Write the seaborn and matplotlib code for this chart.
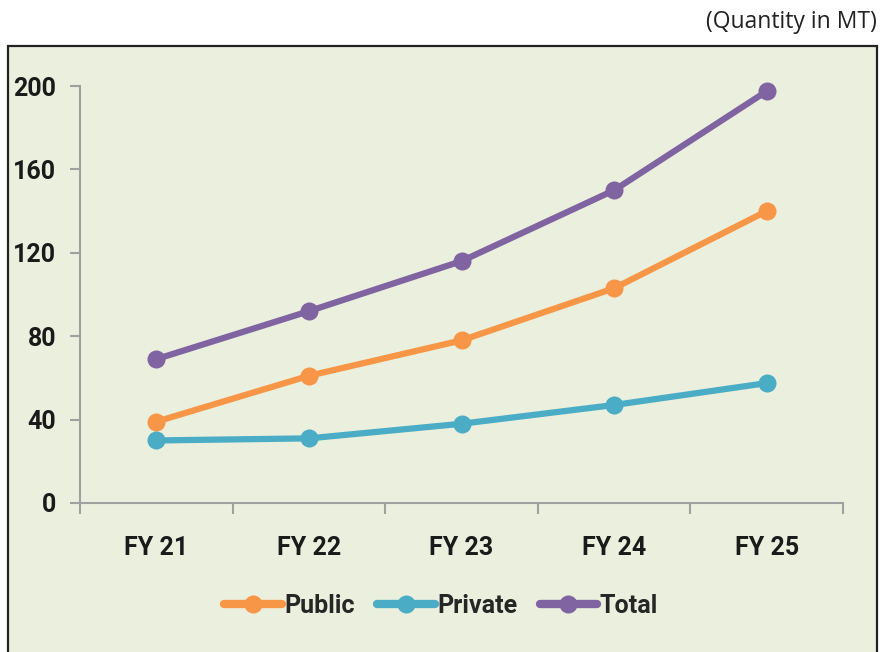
import matplotlib
matplotlib.use("Agg")
import matplotlib.pyplot as plt
from matplotlib.patches import Rectangle
import pandas as pd
import seaborn as sns

years = ["FY 21", "FY 22", "FY 23", "FY 24", "FY 25"]
public = [39, 61, 78, 103, 140]
private = [30, 31, 38, 47, 57.5]
total = [69, 92, 116, 150, 197.5]

series_names = ["Public", "Private", "Total"]
colors = ["#F79646", "#4BACC6", "#8064A2"]

df = pd.DataFrame({
    "Year": years * 3,
    "x": list(range(len(years))) * 3,
    "Value": public + private + total,
    "Series": [s for s in series_names for _ in years],
})

sns.set_style("white")
plt.rcParams["font.family"] = ["Liberation Sans Narrow", "DejaVu Sans Condensed",
                               "Roboto", "DejaVu Sans"]

fig = plt.figure(figsize=(8.82, 6.52), dpi=100)
bg = "#EBF0DE"
fig.patches.append(Rectangle((8 / 882, -0.1), 869 / 882, 1.1 - 46 / 652,
                             transform=fig.transFigure, facecolor=bg,
                             edgecolor="#222222", linewidth=1.6, zorder=-10))
fig.text(877 / 882, 1 - 22 / 652, "(Quantity in MT)", ha="right", va="center",
         fontsize=16.5, family=["Open Sans", "DejaVu Sans"], color="#222222")

ax = fig.add_axes([80 / 882, 1 - 503 / 652, 763 / 882, 417 / 652])
ax.set_facecolor("none")

sns.lineplot(data=df, x="x", y="Value", hue="Series", hue_order=series_names,
             palette=colors, marker="o", markersize=13, markeredgewidth=0,
             linewidth=4.5, ax=ax, clip_on=False)

ax.set_xlim(-0.5, len(years) - 0.5)
ax.set_ylim(0, 200)
ax.set_yticks([0, 40, 80, 120, 160, 200])
ax.set_xticks(range(len(years)))
ax.set_xticklabels(years)
ax.set_xticks([i - 0.5 for i in range(len(years) + 1)], minor=True)
ax.tick_params(axis="x", which="both", bottom=True)
ax.tick_params(axis="x", which="major", length=0, pad=24, labelsize=18)
ax.tick_params(axis="x", which="minor", length=8, width=1.5, color="#A0A0A0", direction="out")
ax.tick_params(axis="y", left=True, length=7, width=1.5, color="#A0A0A0", pad=10, labelsize=18)
for lab in ax.get_xticklabels() + ax.get_yticklabels():
    lab.set_fontweight("bold")
    lab.set_color("#1a1a1a")

for side in ["top", "right"]:
    ax.spines[side].set_visible(False)
for side in ["left", "bottom"]:
    ax.spines[side].set_color("#A0A0A0")
    ax.spines[side].set_linewidth(1.5)

ax.set_xlabel("")
ax.set_ylabel("")

handles, labels = ax.get_legend_handles_labels()
for h in handles:
    h.set_linewidth(6)
ax.legend(handles, labels, loc="center", bbox_to_anchor=(0.5, 1 - 606 / 652),
          bbox_transform=fig.transFigure, ncol=3, frameon=False,
          prop={"weight": "bold", "size": 18}, handlelength=2.3,
          handletextpad=0.1, columnspacing=0.9)

fig.savefig("out.png", dpi=100)
